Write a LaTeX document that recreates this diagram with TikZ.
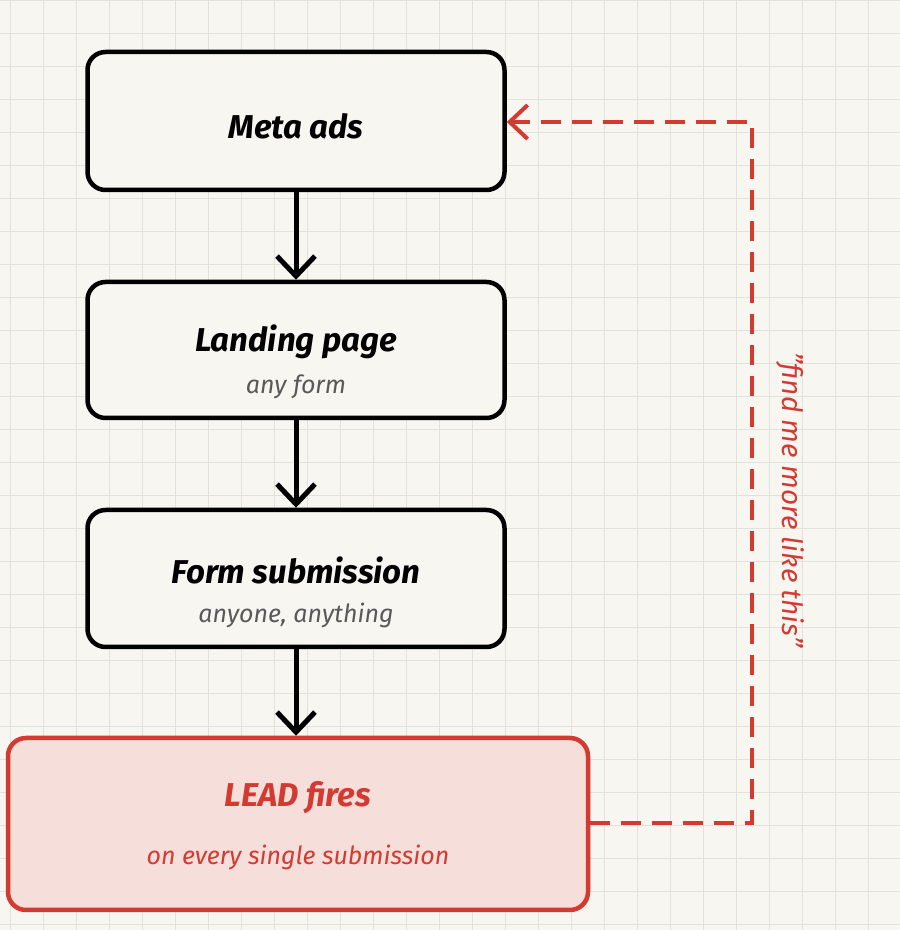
\documentclass[tikz,border=0pt]{standalone}
\usepackage{fontspec}
\setmainfont{Fira Sans}
\usetikzlibrary{arrows.meta}
\definecolor{bg}{HTML}{F7F6F1}
\definecolor{gridc}{HTML}{E2E2DD}
\definecolor{redc}{HTML}{D23A32}
\definecolor{redfill}{HTML}{F6DEDA}
\tikzset{
 box/.style={draw=black, line width=4.5pt, rounded corners=18pt, fill=bg, minimum width=417pt},
 title/.style={font=\fontsize{33}{38}\selectfont\bfseries\itshape},
 sub/.style={font=\fontsize{25}{29}\selectfont\itshape, text=black!65},
 flow/.style={line width=5pt, -{Straight Barb[length=20pt,width=38pt,line width=5pt]}},
}
\begin{document}
\begin{tikzpicture}[x=1pt,y=1pt]
\fill[bg] (0,0) rectangle (900,930);
\useasboundingbox (0,0) rectangle (900,930);
\begin{scope}
\clip (0,0) rectangle (900,930);
\foreach \i in {0,...,28} {
 \draw[gridc, line width=0.8pt] (\i*33+10,0) -- (\i*33+10,930);
 \draw[gridc, line width=0.8pt] (0,\i*33+6) -- (900,\i*33+6);
}
\end{scope}
\node[box, minimum height=138pt] (meta) at (296,809) {};
\node[title] at (296,804) {Meta ads};
\node[box, minimum height=136pt] (land) at (296,580) {};
\node[title] at (296,588) {Landing page};
\node[sub] at (296,543) {any form};
\node[box, minimum height=137pt] (form) at (296,351.5) {};
\node[title] at (296,360) {Form submission};
\node[sub] at (296,315) {anyone, anything};
\node[box, draw=redc, fill=redfill, minimum width=580pt, minimum height=172pt] (lead) at (298,106) {};
\node[title, text=redc] at (298,132) {LEAD fires};
\node[sub, text=redc] at (298,73) {on every single submission};
\draw[flow] (meta.south) -- (land.north);
\draw[flow] (land.south) -- (form.north);
\draw[flow] (form.south) -- (form.south |- lead.north);
\coordinate (c1) at (752,107);
\coordinate (c2) at (752,808);
\draw[redc, line width=4pt, dash pattern=on 20pt off 11pt, -{Straight Barb[length=18pt,width=34pt,line width=4pt]}]
 (lead.east |- 0,107) -- (c1) -- (c2) -- (meta.east |- c2);
\node[rotate=-90, text=redc, font=\fontsize{28}{32}\selectfont\itshape] (lbl) at (790,430) {"find me more like this"};
\end{tikzpicture}
\end{document}
